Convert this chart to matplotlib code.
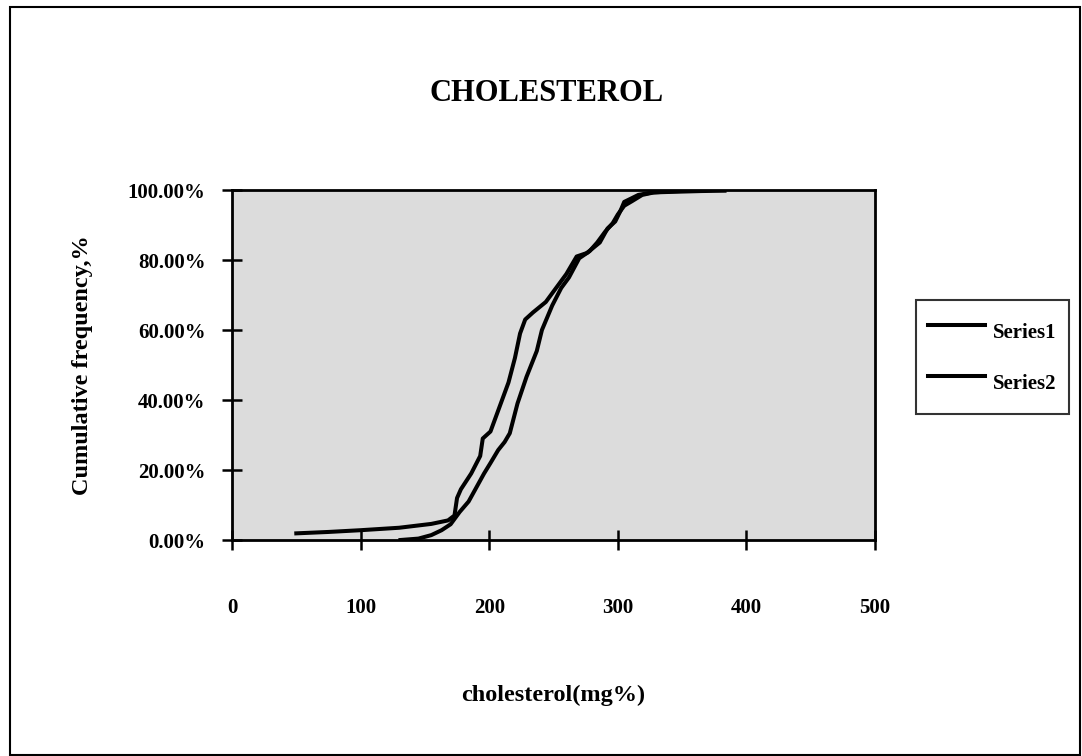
import matplotlib
matplotlib.use("Agg")
import matplotlib.pyplot as plt
from matplotlib.ticker import FuncFormatter, MultipleLocator
from matplotlib.patches import Rectangle

# ---- data ----
series1_x = [50, 75, 100, 130, 155, 168, 173, 175, 178, 186, 193, 195, 201, 207, 215, 220,
             224, 228, 234, 244, 252, 260, 268, 276, 286, 292, 298, 302, 305, 310, 316, 327,
             345, 365, 383]
series1_y = [1.9, 2.3, 2.8, 3.5, 4.6, 5.6, 7.0, 12.0, 14.5, 19, 24, 29, 31, 37, 45, 52,
             59, 63, 65, 68, 72, 76, 81, 82, 85, 89, 91, 94, 96.6, 97.5, 98.6, 99.3,
             99.5, 99.7, 99.8]
series2_x = [131, 145, 155, 163, 170, 177, 184, 190, 196, 201, 207, 212, 216, 222, 229, 237,
             241, 249, 256, 262, 270, 278, 284, 290, 296, 300, 305, 311, 319, 328, 340, 355]
series2_y = [0, 0.4, 1.4, 2.8, 4.5, 8.0, 11, 15, 19, 22, 25.7, 28, 30.5, 39, 46.6, 54,
             60, 67, 72, 75, 80.5, 82.5, 85, 88, 90.5, 93, 95.5, 96.8, 98.6, 99.3, 99.6, 99.8]
series_names = ["Series1", "Series2"]
title = "CHOLESTEROL"
x_label = "cholesterol(mg%)"
y_label = "Cumulative frequency,%"

plt.rcParams['font.family'] = ['Liberation Serif', 'DejaVu Serif']
plt.rcParams['font.weight'] = 'bold'

W, H = 1082, 756
fig = plt.figure(figsize=(W / 100, H / 100), dpi=100)
fig.patch.set_facecolor('white')

left, right, top, bottom = 232, 875, 190, 540
ax = fig.add_axes([left / W, 1 - bottom / H, (right - left) / W, (bottom - top) / H])
ax.set_facecolor('#dcdcdc')

ax.plot(series1_x, series1_y, color='black', lw=2.9, label=series_names[0], solid_joinstyle='round')
ax.plot(series2_x, series2_y, color='black', lw=2.9, label=series_names[1], solid_joinstyle='round')

ax.set_xlim(0, 500)
ax.set_ylim(0, 100)
ax.xaxis.set_major_locator(MultipleLocator(100))
ax.yaxis.set_major_locator(MultipleLocator(20))
ax.yaxis.set_major_formatter(FuncFormatter(lambda v, p: f"{v:.2f}%"))

for s in ax.spines.values():
    s.set_linewidth(2.0)
    s.set_color('black')

ax.tick_params(axis='both', direction='inout', length=14, width=1.8, labelsize=15, colors='black')
ax.tick_params(axis='x', pad=35)
ax.tick_params(axis='y', pad=12)
for lab in ax.get_xticklabels() + ax.get_yticklabels():
    lab.set_fontweight('bold')

ax.set_title(title, fontsize=22, fontweight='bold', pad=64)
ax.title.set_x((547 - left) / (right - left))
ax.set_xlabel(x_label, fontsize=17.5, fontweight='bold', labelpad=48)
ax.set_ylabel(y_label, fontsize=17.5, fontweight='bold', labelpad=25)

leg = ax.legend(loc='upper left', bbox_to_anchor=(916 / W, 1 - 300 / H),
                bbox_transform=fig.transFigure, fontsize=15, frameon=True,
                fancybox=False, edgecolor='black', handlelength=2.7,
                handleheight=2.45, labelspacing=0.62, handletextpad=0.4,
                borderpad=0.6, borderaxespad=0)
leg.get_frame().set_linewidth(1.5)
for t in leg.get_texts():
    t.set_fontweight('bold')
for l in leg.get_lines():
    l.set_linewidth(2.9)

fig.patches.append(Rectangle((10 / W, 1 - 755 / H), 1070 / W, 748 / H,
                             transform=fig.transFigure, fill=False,
                             edgecolor='black', lw=1.5))

fig.savefig('out.png', dpi=100)
